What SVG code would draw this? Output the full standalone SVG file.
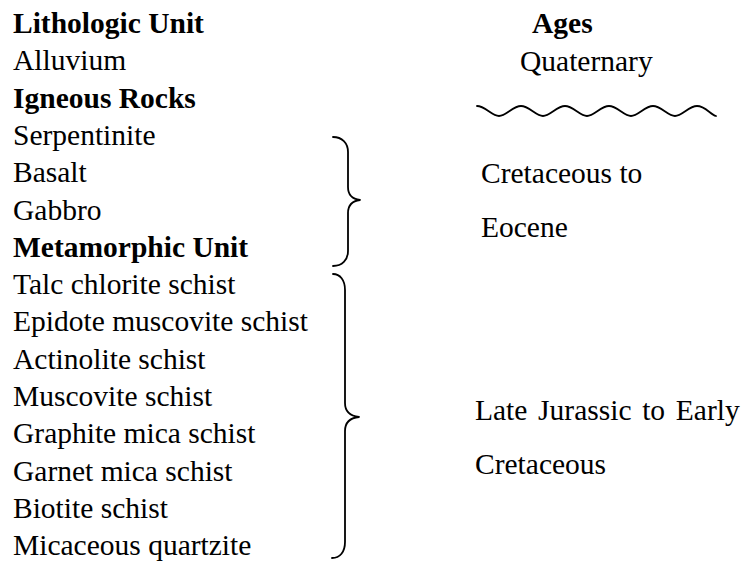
<svg xmlns="http://www.w3.org/2000/svg" width="746" height="561" viewBox="0 0 746 561">
<style>
text{font-family:"Liberation Serif","Times New Roman",serif;font-size:29.5px;fill:#000}
.b{font-weight:bold}
.ln{fill:none;stroke:#000;stroke-width:1.8;stroke-linecap:round;stroke-linejoin:round}
</style>
<rect width="746" height="561" fill="#fff"/>
<g id="units">
<text class="b" x="13" y="33">Lithologic Unit</text>
<text x="13" y="70.3">Alluvium</text>
<text class="b" x="13" y="107.6">Igneous Rocks</text>
<text x="13" y="145">Serpentinite</text>
<text x="13" y="182.2">Basalt</text>
<text x="13" y="219.5">Gabbro</text>
<text class="b" x="13" y="256.8">Metamorphic Unit</text>
<text x="13" y="294.1">Talc chlorite schist</text>
<text x="13" y="331.4">Epidote muscovite schist</text>
<text x="13" y="368.7">Actinolite schist</text>
<text x="13" y="406">Muscovite schist</text>
<text x="13" y="443.3">Graphite mica schist</text>
<text x="13" y="480.6">Garnet mica schist</text>
<text x="13" y="517.9">Biotite schist</text>
<text x="13" y="555.2">Micaceous quartzite</text>
</g>
<g id="ages">
<text class="b" x="532" y="33">Ages</text>
<text x="520" y="71">Quaternary</text>
<text x="481" y="183">Cretaceous to</text>
<text x="481" y="237">Eocene</text>
<text x="475" y="420" word-spacing="3.3">Late Jurassic to Early</text>
<text x="475" y="474">Cretaceous</text>
</g>
<g id="connectors">
<path id="unconformity" class="ln" d="M477,106 C485,106 492,116 499,116 C506,116 513,106 521,106 C529,106 536,116 543,116 C550,116 557,106 565,106 C573,106 580,116 587,116 C594,116 601,106 609,106 C617,106 624,116 631,116 C638,116 645,106 653,106 C661,106 668,116 675,116 C682,116 689,106 697,106 C705,106 710,114 716,116"/>
<path id="brace-igneous" class="ln" d="M333,137 C342,137 348,143 348,152 L348,187 C348,194 352,199 360,200 C352,201 348,206 348,213 L348,251 C348,260 342,266 333,266"/>
<path id="brace-metamorphic" class="ln" d="M333,274 C340,274 345,280 345,290 L345,403 C345,411 350,416 359,417 C350,418 345,423 345,431 L345,542 C345,552 340,558 332,558"/>
</g>
</svg>
